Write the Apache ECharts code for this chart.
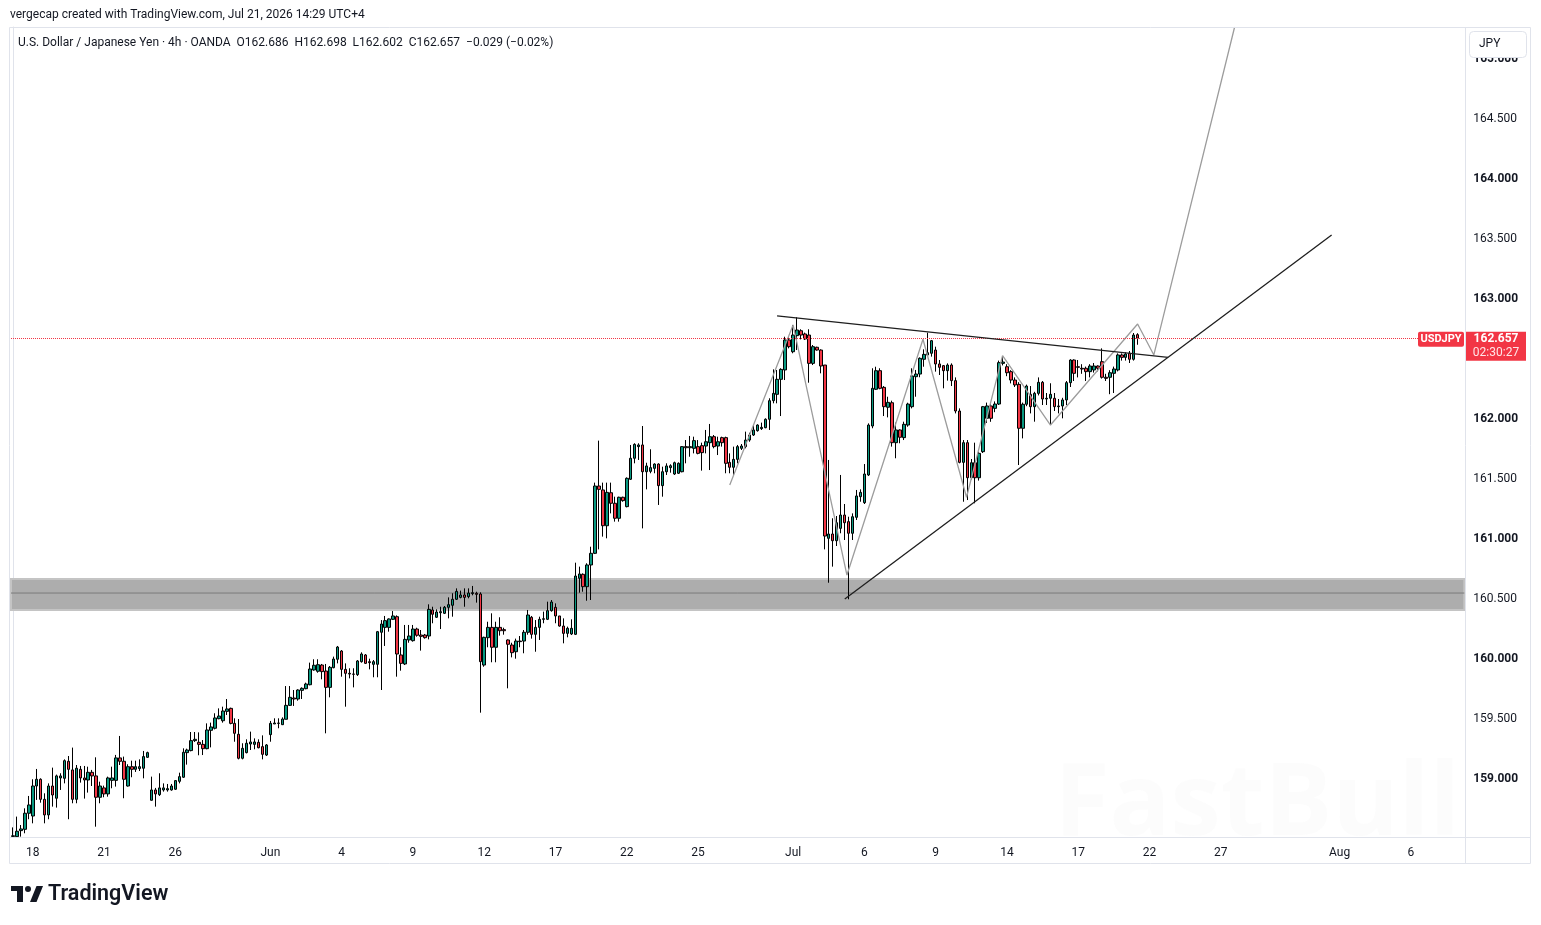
<!DOCTYPE html>
<html>
<head>
<meta charset="utf-8">
<script src="https://cdn.jsdelivr.net/npm/echarts@6/dist/echarts.min.js"></script>
<style>
  html, body { margin: 0; padding: 0; background: #fff; }
  #chart { width: 1541px; height: 925px; }
</style>
</head>
<body>
<div id="chart"></div>
<script>
// USDJPY 4h candles, bar 0 = last bars of Fri May 15, bar 284 = Jul 21 13:00
const opens = [
  158.505,158.503,158.553,158.564,158.698,158.675,158.925,158.981,158.814,158.684,
  158.925,158.823,158.992,158.989,159.131,159.059,158.814,159.064,158.992,158.975,
  159.039,159.009,158.831,158.909,158.859,158.972,158.972,159.159,159.131,158.925,
  159.086,159.064,159.070,159.073,159.164,158.806,158.892,158.853,158.892,158.892,
  158.892,158.898,158.964,158.998,159.203,159.220,159.303,159.289,159.272,159.236,
  159.389,159.406,159.486,159.469,159.547,159.572,159.447,159.356,159.156,159.203,
  159.275,159.272,159.289,159.253,159.183,159.353,159.442,159.447,159.436,159.481,
  159.597,159.658,159.650,159.722,159.736,159.769,159.892,159.881,159.933,159.883,
  159.747,159.911,159.981,160.050,159.897,159.864,159.858,159.853,159.961,160.017,
  159.961,159.939,159.939,160.206,160.247,160.247,160.314,160.336,160.017,159.942,
  160.142,160.136,160.233,160.183,160.183,160.175,160.392,160.331,160.369,160.364,
  160.414,160.431,160.481,160.497,160.517,160.503,160.528,160.531,160.525,159.933,
  160.161,160.247,160.081,160.247,160.228,160.142,160.100,160.044,160.133,160.133,
  160.206,160.331,160.189,160.247,160.314,160.314,160.386,160.414,160.342,160.258,
  160.197,160.192,160.189,160.656,160.689,160.586,160.767,160.864,161.425,161.392,
  161.094,161.369,161.281,161.156,161.331,161.253,161.481,161.656,161.753,161.767,
  161.544,161.547,161.572,161.608,161.428,161.544,161.578,161.525,161.531,161.544,
  161.753,161.744,161.739,161.753,161.761,161.758,161.786,161.836,161.758,161.828,
  161.828,161.622,161.581,161.647,161.739,161.753,161.808,161.850,161.886,161.903,
  161.911,161.981,162.136,162.189,162.314,162.392,162.642,162.544,162.678,162.719,
  162.692,162.683,162.447,162.581,162.558,162.433,160.989,161.025,160.969,161.072,
  161.183,161.128,161.031,161.164,161.336,161.286,161.517,161.925,162.231,162.386,
  162.247,162.081,162.119,161.786,161.892,161.828,161.933,162.086,162.336,162.358,
  162.481,162.517,162.531,162.558,162.442,162.428,162.386,162.433,162.303,162.050,
  161.622,161.786,161.494,161.619,161.494,161.711,161.989,162.092,162.072,162.108,
  162.447,162.419,162.378,162.308,162.272,161.906,162.106,162.189,162.086,162.197,
  162.289,162.150,162.156,162.156,162.086,162.092,162.142,162.286,162.475,162.419,
  162.406,162.406,162.378,162.392,162.425,162.461,162.331,162.331,162.364,162.392,
  162.517,162.497,162.531,162.481,162.686
];
const highs = [
  158.580,158.670,158.600,158.739,158.842,158.981,159.067,158.989,158.864,158.947,
  159.078,159.020,159.031,159.147,159.175,159.245,159.100,159.092,159.092,159.086,
  159.059,159.164,158.961,158.928,159.003,159.086,159.184,159.342,159.170,159.106,
  159.136,159.136,159.147,159.217,159.211,159.003,158.909,159.031,158.947,158.942,
  158.942,158.975,159.036,159.239,159.236,159.375,159.375,159.372,159.308,159.447,
  159.453,159.531,159.572,159.586,159.650,159.578,159.489,159.483,159.281,159.314,
  159.378,159.322,159.314,159.347,159.275,159.467,159.489,159.489,159.497,159.758,
  159.758,159.725,159.731,159.747,159.786,159.953,159.981,159.981,159.942,159.942,
  159.925,160.003,160.092,160.058,159.947,159.906,159.906,159.975,160.039,160.025,
  159.986,159.975,160.217,160.308,160.342,160.322,160.383,160.347,160.081,160.267,
  160.267,160.267,160.244,160.225,160.192,160.439,160.419,160.397,160.419,160.425,
  160.497,160.531,160.572,160.553,160.572,160.572,160.592,160.544,160.539,160.169,
  160.294,160.364,160.294,160.331,160.244,160.147,160.119,160.153,160.175,160.225,
  160.392,160.342,160.308,160.336,160.378,160.461,160.475,160.447,160.342,160.322,
  160.253,160.314,160.786,160.753,160.697,160.781,160.919,161.453,161.803,161.453,
  161.453,161.453,161.336,161.336,161.336,161.497,161.767,161.781,161.781,161.925,
  161.619,161.731,161.614,161.614,161.586,161.614,161.606,161.628,161.622,161.758,
  161.808,161.842,161.836,161.808,161.786,161.892,161.942,161.850,161.836,161.836,
  161.836,161.697,161.753,161.767,161.775,161.878,161.869,161.933,161.939,161.953,
  161.989,162.156,162.397,162.392,162.406,162.669,162.664,162.767,162.831,162.731,
  162.703,162.731,162.600,162.586,162.564,162.433,161.642,161.156,161.175,161.517,
  161.275,161.169,161.197,161.392,161.397,161.608,161.947,162.406,162.419,162.406,
  162.258,162.169,162.136,161.953,161.897,161.961,162.119,162.406,162.392,162.497,
  162.564,162.703,162.642,162.586,162.475,162.433,162.447,162.447,162.330,162.072,
  161.808,161.808,161.650,161.786,161.711,162.092,162.120,162.110,162.130,162.470,
  162.503,162.440,162.390,162.330,162.290,162.120,162.270,162.258,162.210,162.330,
  162.300,162.200,162.281,162.200,162.150,162.160,162.300,162.481,162.480,162.475,
  162.440,162.420,162.440,162.450,162.430,162.572,162.360,162.390,162.420,162.530,
  162.530,162.540,162.550,162.700,162.698
];
const lows = [
  158.500,158.500,158.503,158.531,158.648,158.614,158.809,158.786,158.614,158.648,
  158.753,158.745,158.892,158.947,158.648,158.781,158.781,158.953,158.820,158.870,
  158.925,158.586,158.781,158.831,158.836,158.906,158.920,159.100,158.823,158.920,
  158.998,159.042,159.050,158.989,159.159,158.803,158.753,158.842,158.878,158.878,
  158.886,158.892,158.947,158.992,159.103,159.214,159.292,159.181,159.183,159.231,
  159.247,159.397,159.481,159.453,159.517,159.439,159.294,159.147,159.147,159.197,
  159.225,159.231,159.239,159.147,159.175,159.294,159.442,159.406,159.433,159.481,
  159.592,159.592,159.636,159.650,159.731,159.764,159.886,159.869,159.814,159.364,
  159.664,159.906,159.947,159.836,159.586,159.822,159.747,159.842,159.953,159.942,
  159.897,159.831,159.831,159.725,160.092,160.211,160.308,159.836,159.886,159.933,
  160.119,160.128,160.169,160.053,160.153,160.147,160.281,160.325,160.233,160.358,
  160.322,160.336,160.475,160.489,160.419,160.489,160.514,160.453,159.536,159.919,
  160.081,159.956,159.956,160.178,160.186,159.739,159.997,159.986,160.081,160.031,
  160.186,160.153,160.044,160.142,160.281,160.308,160.378,160.281,160.253,160.114,
  160.164,160.183,160.183,160.536,160.544,160.469,160.475,160.858,160.897,161.003,
  160.989,161.197,161.128,161.128,161.294,161.247,161.475,161.614,161.642,161.072,
  161.397,161.531,161.531,161.267,161.336,161.517,161.536,161.517,161.525,161.539,
  161.614,161.669,161.697,161.689,161.553,161.697,161.558,161.739,161.683,161.753,
  161.531,161.531,161.517,161.614,161.725,161.739,161.794,161.842,161.878,161.892,
  161.906,161.892,162.114,162.114,162.008,162.308,162.572,162.531,162.558,162.647,
  162.642,162.286,162.433,162.553,162.364,160.897,160.619,160.753,160.925,161.031,
  160.975,160.481,160.975,161.142,161.294,161.275,161.508,161.906,162.225,162.231,
  162.008,161.997,161.753,161.656,161.781,161.808,161.919,162.072,162.169,162.331,
  162.419,162.508,162.503,162.378,162.350,162.239,162.303,162.258,162.030,161.614,
  161.294,161.308,161.480,161.281,161.470,161.700,161.950,161.960,162.040,162.100,
  162.430,162.340,162.280,162.250,161.600,161.822,162.090,162.030,161.961,162.180,
  162.100,162.100,161.933,162.050,162.030,161.989,162.100,162.250,162.300,162.330,
  162.360,162.300,162.330,162.370,162.380,162.320,162.300,162.190,162.200,162.380,
  162.470,162.470,162.450,162.470,162.602
];
const closes = [
  158.510,158.548,158.567,158.698,158.767,158.925,158.981,158.814,158.684,158.925,
  158.850,159.009,159.009,159.136,159.064,158.814,159.073,158.992,158.975,159.039,
  159.009,158.831,158.925,158.859,158.992,158.992,159.159,159.131,158.981,159.086,
  159.064,159.086,159.086,159.170,159.203,158.892,158.859,158.909,158.909,158.903,
  158.925,158.970,159.003,159.206,159.225,159.303,159.314,159.272,159.236,159.392,
  159.417,159.492,159.508,159.550,159.567,159.447,159.364,159.156,159.239,159.281,
  159.292,159.292,159.244,159.189,159.267,159.447,159.450,159.450,159.483,159.597,
  159.664,159.650,159.725,159.739,159.775,159.900,159.931,159.936,159.878,159.747,
  159.914,159.983,160.083,159.897,159.864,159.858,159.856,159.967,160.025,159.947,
  159.953,159.961,160.211,160.275,160.303,160.317,160.342,160.025,159.947,160.147,
  160.175,160.233,160.181,160.172,160.161,160.397,160.356,160.375,160.378,160.414,
  160.436,160.481,160.547,160.517,160.497,160.533,160.536,160.522,159.961,160.164,
  160.247,160.081,160.247,160.219,160.219,160.106,160.036,160.133,160.128,160.206,
  160.350,160.189,160.247,160.314,160.319,160.386,160.458,160.342,160.258,160.197,
  160.239,160.239,160.675,160.692,160.586,160.767,160.864,161.425,161.397,161.094,
  161.372,161.281,161.156,161.331,161.303,161.489,161.656,161.772,161.767,161.544,
  161.592,161.578,161.608,161.428,161.544,161.592,161.594,161.619,161.614,161.753,
  161.744,161.753,161.803,161.697,161.703,161.794,161.836,161.753,161.794,161.786,
  161.614,161.581,161.647,161.753,161.758,161.808,161.850,161.892,161.933,161.914,
  161.981,162.136,162.197,162.314,162.397,162.642,162.586,162.683,162.725,162.683,
  162.650,162.447,162.586,162.558,162.425,161.008,161.025,160.969,161.119,161.183,
  161.119,161.031,161.169,161.342,161.372,161.525,161.933,162.239,162.386,162.239,
  162.086,162.122,161.786,161.892,161.831,161.939,162.108,162.342,162.358,162.489,
  162.522,162.536,162.636,162.442,162.414,162.386,162.433,162.303,162.050,161.622,
  161.786,161.494,161.619,161.494,161.697,162.086,162.092,161.989,162.108,162.453,
  162.458,162.369,162.308,162.267,161.906,162.106,162.258,162.086,162.197,162.289,
  162.150,162.156,162.189,162.086,162.092,162.142,162.286,162.475,162.364,162.414,
  162.400,162.378,162.425,162.425,162.406,162.331,162.322,162.369,162.400,162.517,
  162.497,162.525,162.481,162.683,162.657
];

// time scale: one slot per 4h bar, future slots included
const barCount = 367;
const tickIndex = [5, 23, 41, 65, 83, 101, 119, 137, 155, 173, 197, 215, 233, 251, 269, 287, 305, 335, 353];
const tickText = ['18', '21', '26', 'Jun', '4', '9', '12', '17', '22', '25', 'Jul', '6', '9', '14', '17', '22', '27', 'Aug', '6'];

// drawings: [bar position, price]
const supportZone = [160.392, 160.650];
const supportMid = 160.533;
const upperTrend = [[192.95, 162.842], [291.7, 162.497]];
const lowerTrend = [[210.05, 160.483], [333.0, 163.517]];
const projection = [
  [181.0, 161.433], [197.0, 162.767], [210.6, 160.683], [229.8, 162.648],
  [240.8, 161.331], [249.9, 162.511], [262.0, 161.933], [284.0, 162.775],
  [288.1, 162.517], [308.5, 165.25]
];
const lastPrice = 162.657;

if (opens.length !== closes.length || highs.length !== lows.length || opens.length !== highs.length) {
  throw new Error('ohlc length mismatch ' + [opens.length, highs.length, lows.length, closes.length]);
}

const FONT = 'Roboto, "Noto Sans", sans-serif';
const TEXT = '#131722';
const BORDER = '#e0e3eb';

const categories = [];
for (let i = 0; i < barCount; i++) categories.push('');
tickIndex.forEach((k, j) => { categories[k] = tickText[j]; });

const candles = opens.map((o, i) => [o, closes[i], lows[i], highs[i]]);

const chart = echarts.init(document.getElementById('chart'));

// price scale label: whole numbers a bit heavier, hidden under the last-price tag
function priceLabel(v) {
  if (Math.abs(v - lastPrice) < 0.2) return '';
  return (Math.abs(v - Math.round(v)) < 1e-9 ? '{b|' : '{n|') + v.toFixed(3) + '}';
}

chart.setOption({
  animation: false,
  backgroundColor: '#fff',
  grid: { left: 11, top: 27, width: 1453.3, height: 810 },
  xAxis: [
    {
      type: 'category',
      data: categories,
      boundaryGap: true,
      axisLine: { show: true, lineStyle: { color: BORDER } },
      axisTick: { show: false },
      splitLine: { show: false },
      axisLabel: { interval: 0, color: TEXT, fontFamily: FONT, fontSize: 12, margin: 10 }
    },
    // hidden numeric twin of the bar axis, for the drawings
    { type: 'value', min: -0.5, max: barCount - 0.5, show: false }
  ],
  yAxis: {
    type: 'value',
    position: 'right',
    min: 158.5,
    max: 165.25,
    interval: 0.5,
    axisLine: { show: true, lineStyle: { color: BORDER } },
    axisTick: { show: false },
    splitLine: { show: false },
    axisLabel: {
      formatter: priceLabel,
      margin: 9,
      showMinLabel: false, showMaxLabel: false,
      padding: [4, 0, 0, 0],
      rich: {
        b: { color: TEXT, fontFamily: FONT, fontSize: 12, fontWeight: 'bold' },
        n: { color: TEXT, fontFamily: FONT, fontSize: 12 }
      }
    }
  },
  series: [
    {
      // grey support zone with its mid line
      type: 'custom',
      xAxisIndex: 1,
      z: 1,
      silent: true,
      data: [[-0.5, supportZone[0], barCount - 0.5, supportZone[1], supportMid]],
      renderItem: function (params, api) {
        const a = api.coord([api.value(0), api.value(3)]);
        const b = api.coord([api.value(2), api.value(1)]);
        const m = api.coord([api.value(0), api.value(4)]);
        return {
          type: 'group',
          children: [
            { type: 'rect', shape: { x: a[0], y: a[1], width: b[0] - a[0], height: b[1] - a[1] },
              style: { fill: '#adadad', stroke: '#c4c4c4', lineWidth: 2 } },
            { type: 'line', shape: { x1: a[0], y1: m[1], x2: b[0], y2: m[1] },
              style: { stroke: '#7a7a7a', lineWidth: 1 } }
          ]
        };
      }
    },
    {
      type: 'candlestick',
      name: 'USDJPY',
      z: 3,
      barWidth: 3,
      data: candles,
      itemStyle: {
        color: '#089981', color0: '#f23645',
        borderColor: '#000', borderColor0: '#000', borderColorDoji: '#000',
        borderWidth: 1
      },
      markLine: {
        silent: true,
        symbol: 'none',
        label: { show: false },
        lineStyle: { color: '#f23645', type: 'dotted', width: 1 },
        data: [{ yAxis: lastPrice }]
      }
    },
    {
      type: 'line', xAxisIndex: 1, z: 4, silent: true, symbol: 'none',
      data: projection,
      lineStyle: { color: '#9c9c9c', width: 1.3 }
    },
    {
      type: 'line', xAxisIndex: 1, z: 5, silent: true, symbol: 'none',
      data: upperTrend,
      lineStyle: { color: '#1e1e1e', width: 1.3 }
    },
    {
      type: 'line', xAxisIndex: 1, z: 5, silent: true, symbol: 'none',
      data: lowerTrend,
      lineStyle: { color: '#1e1e1e', width: 1.3 }
    }
  ]
});

// chrome around the plot: header, frame, price tags, logo, watermark
const py = chart.convertToPixel({ yAxisIndex: 0 }, lastPrice);

chart.setOption({
  graphic: [
    { type: 'text', left: 10, top: 9, silent: true,
      style: { text: 'vergecap created with TradingView.com, Jul 21, 2026 14:29 UTC+4', fill: TEXT, font: '12px ' + FONT } },
    { type: 'rect', silent: true, z: 10, shape: { x: 9.5, y: 27.5, width: 1521, height: 836 },
      style: { fill: 'none', stroke: BORDER, lineWidth: 1 } },
    { type: 'line', silent: true, z: 10, shape: { x1: 1465.5, y1: 27, x2: 1465.5, y2: 864 },
      style: { stroke: BORDER, lineWidth: 1 } },
    { type: 'line', silent: true, z: 10, shape: { x1: 9, y1: 837.5, x2: 1531, y2: 837.5 },
      style: { stroke: BORDER, lineWidth: 1 } },
    { type: 'text', left: 18, top: 37, silent: true, z: 10,
      style: { text: 'U.S. Dollar / Japanese Yen \u00b7 4h \u00b7 OANDA  O162.686  H162.698  L162.602  C162.657  \u22120.029 (\u22120.02%)',
               fill: TEXT, font: '12px ' + FONT } },
    { type: 'rect', silent: true, z: 20, shape: { x: 1469.5, y: 31.5, width: 57, height: 26, r: 4 },
      style: { fill: '#fff', stroke: BORDER, lineWidth: 1 } },
    { type: 'text', silent: true, z: 21, x: 1479, y: 44,
      style: { text: 'JPY', fill: TEXT, font: '12px ' + FONT, verticalAlign: 'middle' } },
    { type: 'rect', silent: true, z: 20, shape: { x: 1418, y: py - 6.5, width: 46, height: 15, r: 2 },
      style: { fill: '#f23645' } },
    { type: 'text', silent: true, z: 21, x: 1441, y: py + 1,
      style: { text: 'USDJPY', fill: '#fff', font: 'bold 11px ' + FONT, align: 'center', verticalAlign: 'middle' } },
    { type: 'rect', silent: true, z: 20, shape: { x: 1466, y: py - 6.5, width: 60, height: 29 },
      style: { fill: '#f23645' } },
    { type: 'text', silent: true, z: 21, x: 1496, y: py + 1,
      style: { text: '162.657', fill: '#fff', font: 'bold 12px ' + FONT, align: 'center', verticalAlign: 'middle' } },
    { type: 'text', silent: true, z: 21, x: 1496, y: py + 15,
      style: { text: '02:30:27', fill: '#ffe5e7', font: '12px ' + FONT, align: 'center', verticalAlign: 'middle' } },
    { type: 'text', silent: true, z: 0, x: 1054, y: 806,
      style: { text: 'FastBull', fill: 'rgba(252,252,252,0.95)', font: 'bold 101px "Open Sans", sans-serif',
               verticalAlign: 'middle', shadowColor: 'rgba(0,0,0,0.16)', shadowBlur: 8 } },
    // TradingView logo
    { type: 'rect', silent: true, shape: { x: 11, y: 886, width: 12, height: 5 }, style: { fill: TEXT } },
    { type: 'rect', silent: true, shape: { x: 17, y: 886, width: 6, height: 16 }, style: { fill: TEXT } },
    { type: 'circle', silent: true, shape: { cx: 28, cy: 889, r: 3 }, style: { fill: TEXT } },
    { type: 'polygon', silent: true, shape: { points: [[30, 902], [36.5, 902], [43, 886], [36.5, 886]] }, style: { fill: TEXT } },
    { type: 'text', silent: true, x: 48, y: 895,
      style: { text: 'TradingView', fill: TEXT, font: '600 21.5px ' + FONT, verticalAlign: 'middle' } }
  ]
});
</script>
</body>
</html>
